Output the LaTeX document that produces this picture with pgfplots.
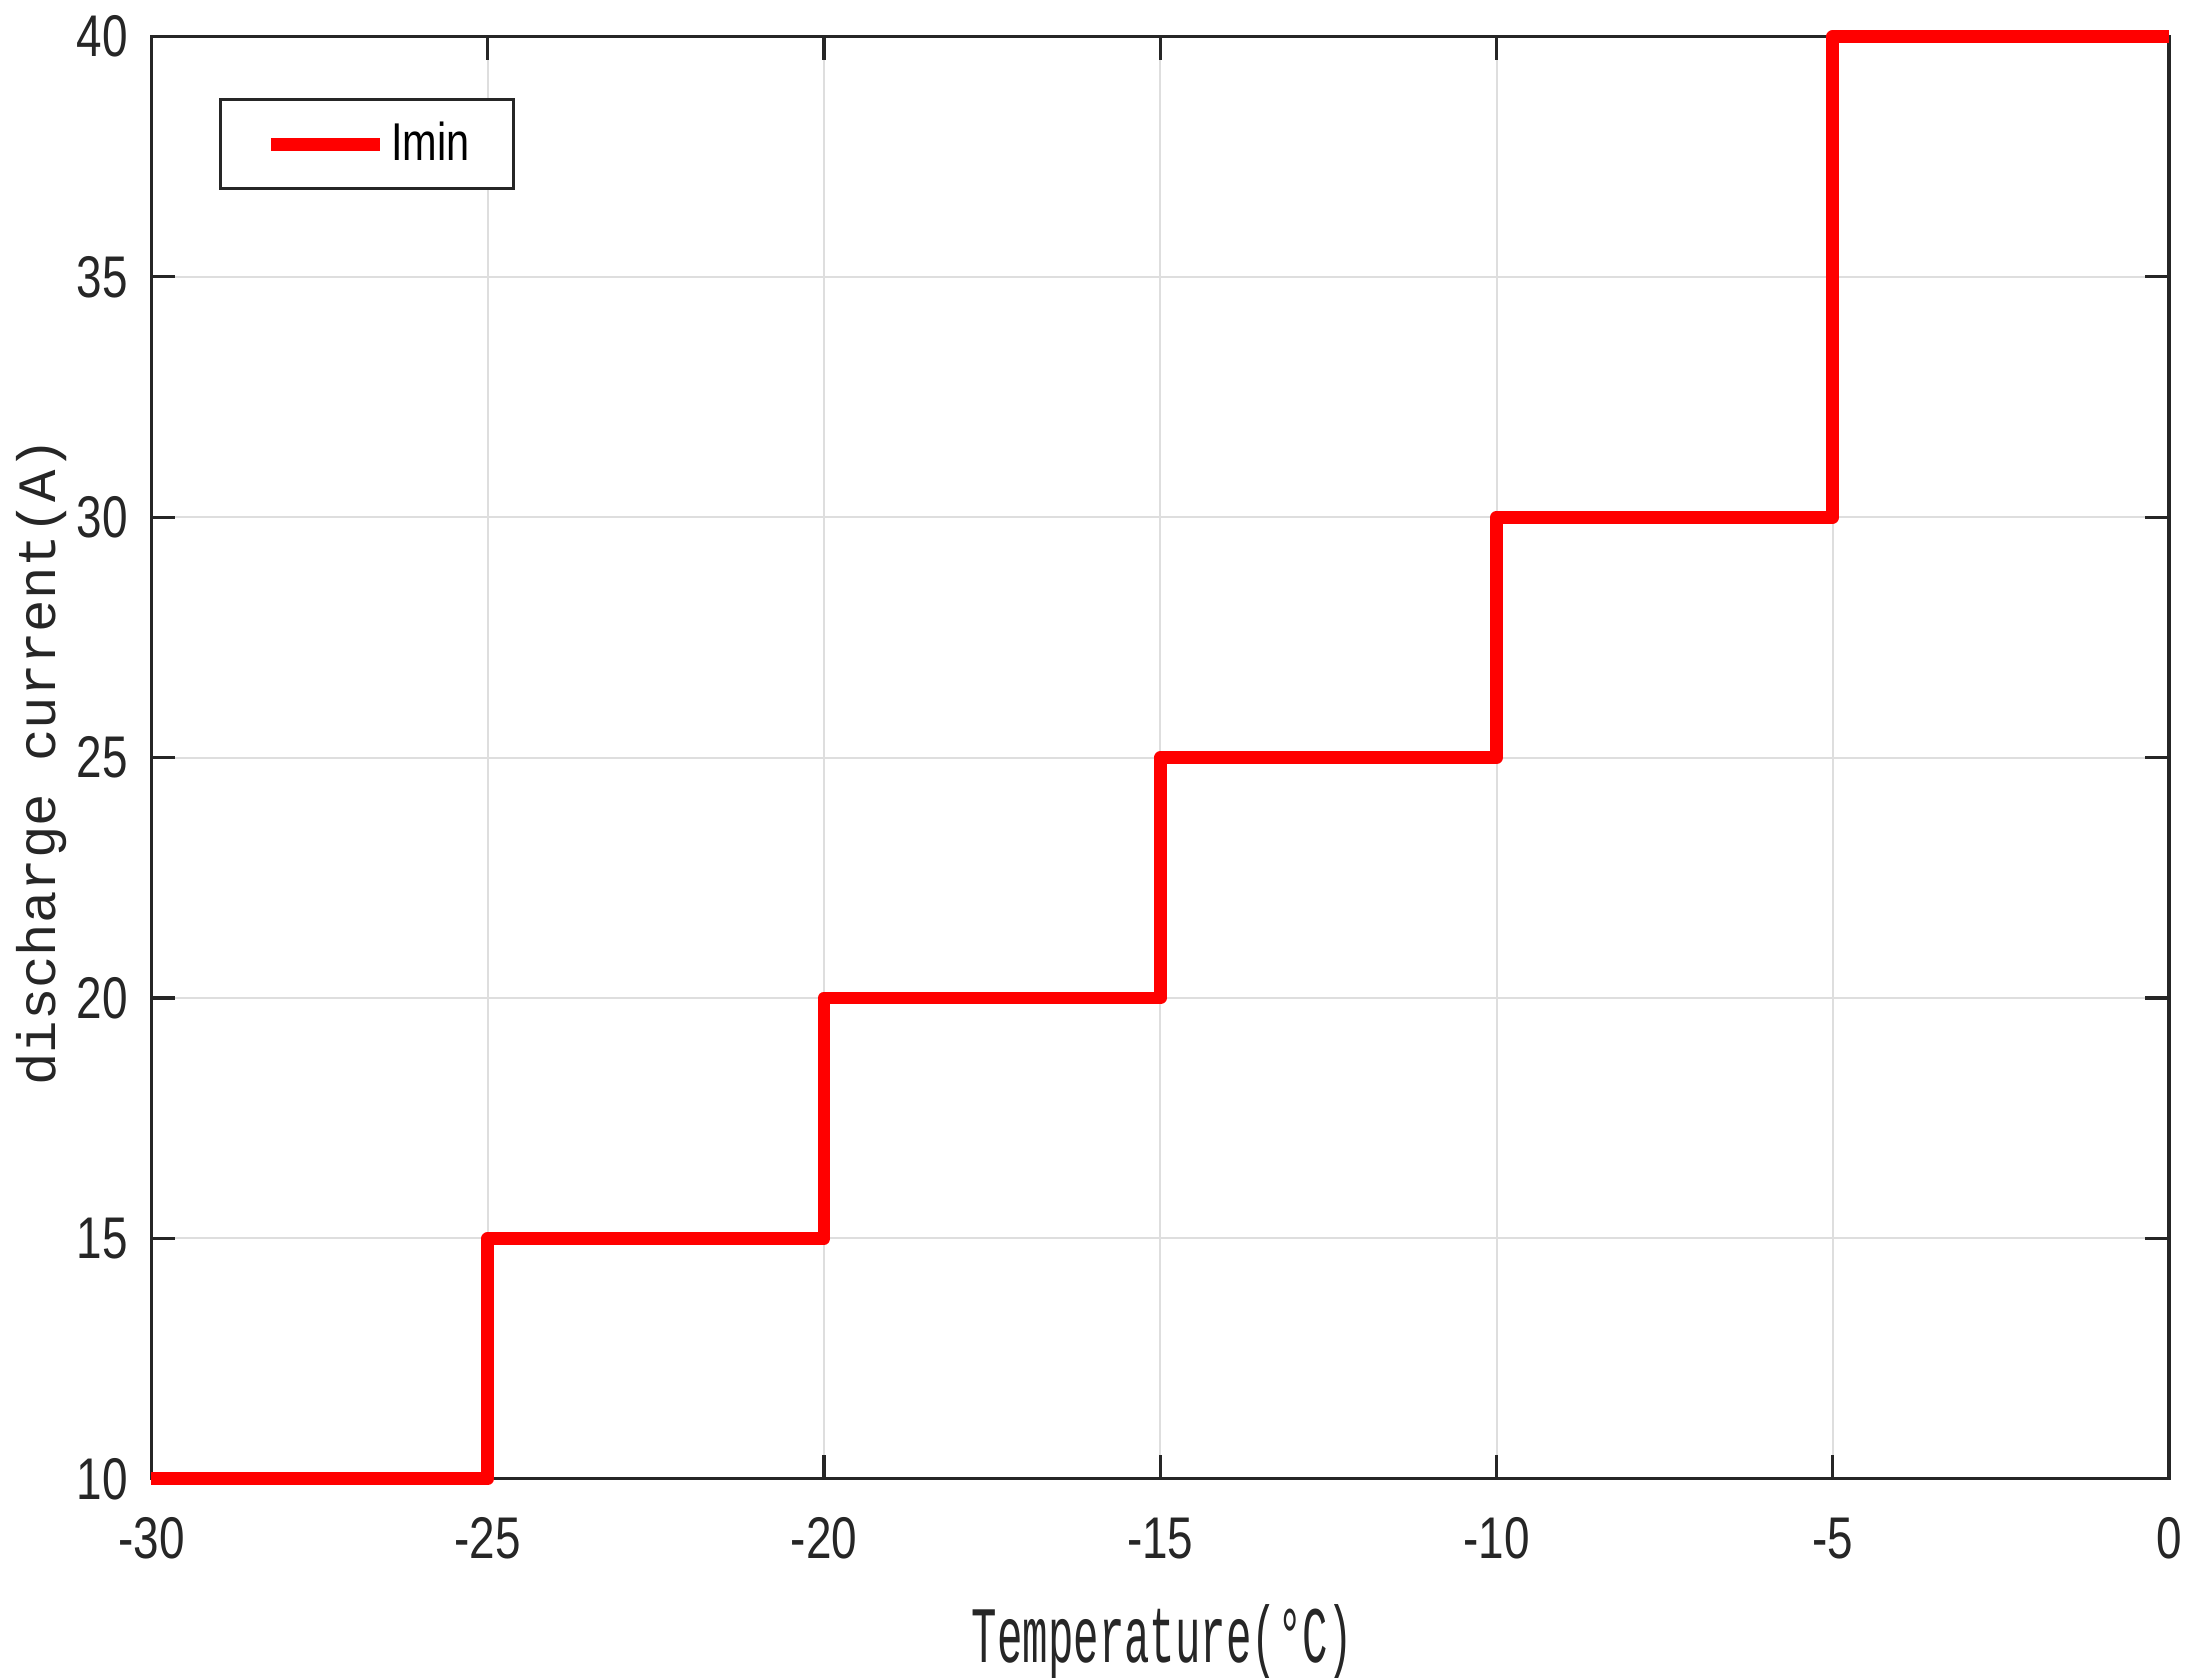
\documentclass[border=0pt]{standalone}
\usepackage{fontspec}
\setmainfont{Liberation Sans}[FakeStretch=0.78]
\newfontfamily\ylabfont{Liberation Mono}
\newfontfamily\xlabfont{Liberation Mono}[FakeStretch=0.53]
\usepackage{pgfplots}
\pgfplotsset{compat=1.18}
\definecolor{axgray}{gray}{0.15}
\definecolor{gridgray}{gray}{0.87}
\begin{document}
\begin{tikzpicture}
\begin{axis}[
  scale only axis,
  width=504.4pt, height=360.6pt,
  xmin=-30, xmax=0, ymin=10, ymax=40,
  xtick={-30,-25,...,0}, ytick={10,15,...,40},
  /pgf/number format/assume math mode=true,
  tick pos=both, tick align=inside,
  major tick length=6pt,
  axis line style={axgray, line width=0.8pt},
  tick style={axgray, line width=0.8pt},
  grid=major,
  major grid style={gridgray, line width=0.5pt},
  ticklabel style={font=\fontsize{14.7}{16}\selectfont, text=axgray, inner sep=0pt},
  xticklabel style={anchor=north, yshift=-9.5pt},
  yticklabel style={anchor=east, xshift=-5.75pt},
  xlabel={\xlabfont\fontsize{20}{22}\selectfont Temperature(°C)},
  ylabel={\ylabfont\fontsize{13.5}{15}\selectfont discharge current(A)},
  xlabel style={at={(axis description cs:0.5,0)}, anchor=north, yshift=-31.25pt, xshift=0.6pt, inner sep=0pt, text=axgray},
  ylabel style={at={(axis description cs:0,0.5)}, anchor=north, yshift=34.1pt, xshift=-1pt, inner sep=0pt, text=axgray},
  legend style={at={(rel axis cs:0,1)}, anchor=north west, xshift=16.9pt, yshift=-15.4pt,
    draw=axgray, line width=0.75pt, fill=white,
    inner xsep=11pt, inner ysep=5.6pt,
    nodes={inner sep=0pt, font=\fontsize{13.3}{15}\selectfont, text=black},
    column sep=1.25pt},
  legend image code/.code={\draw[#1] (0pt,0pt) -- (27.25pt,0pt);},
  clip=false,
]
\addplot[red, line width=3.2pt, line join=round, const plot mark left] coordinates {
  (-30,10) (-25,15) (-20,20) (-15,25) (-10,30) (-5,40) (0,40)
};
\addlegendentry{Imin}
\coordinate (bl) at (rel axis cs:0,0);
\coordinate (tr) at (rel axis cs:1,1);
\end{axis}
\pgfresetboundingbox
\path ([shift={(-37.875pt,-49.75pt)}]bl) rectangle ([shift={(6pt,9.125pt)}]tr);
\end{tikzpicture}
\end{document}
